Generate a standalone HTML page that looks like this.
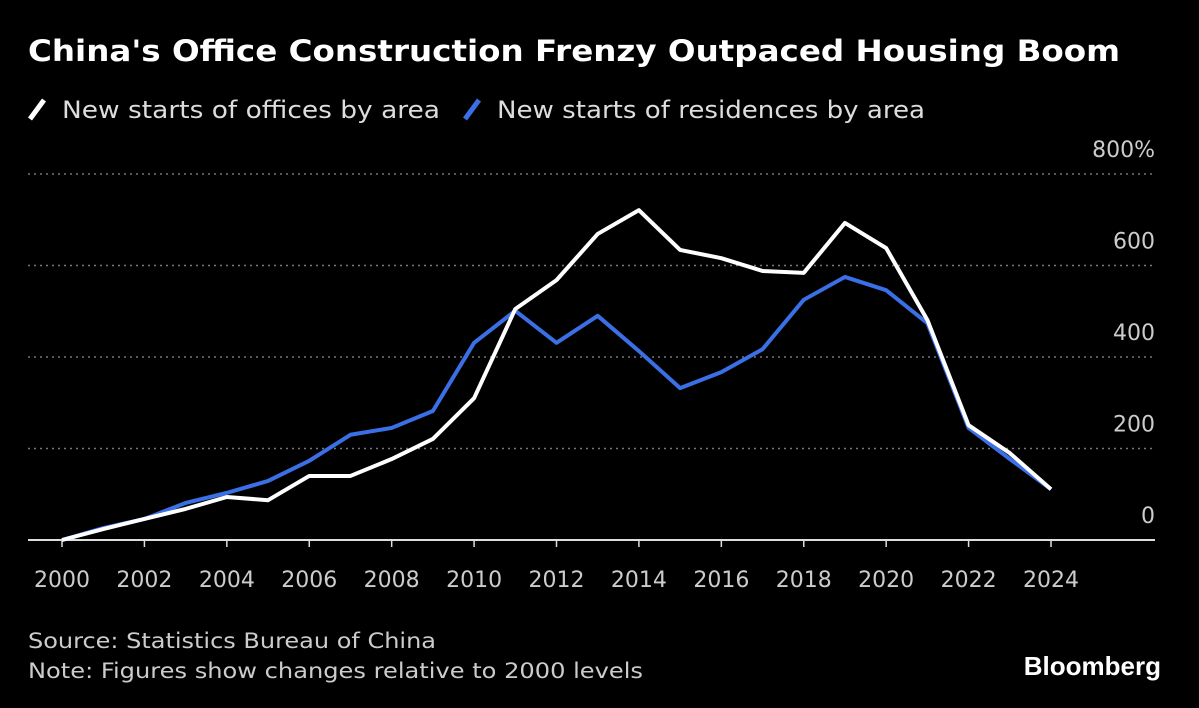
<!DOCTYPE html>
<html><head><meta charset="utf-8"><style>
html,body{margin:0;padding:0;background:#000;}
body{width:1199px;height:704px;overflow:hidden;font-family:"DejaVu Sans","Liberation Sans",sans-serif;color:#fff;}
</style></head><body>
<svg id="chart" width="1199" height="704" xmlns="http://www.w3.org/2000/svg" font-family="DejaVu Sans, Liberation Sans, sans-serif">
<text x="28" y="61" font-size="29" font-weight="bold" fill="#fff" textLength="1092" lengthAdjust="spacingAndGlyphs">China's Office Construction Frenzy Outpaced Housing Boom</text>
<g>
<line x1="30" y1="119" x2="44" y2="100" stroke="#fff" stroke-width="5"/>
<text x="62" y="118" font-size="24" fill="#ddd" textLength="378" lengthAdjust="spacingAndGlyphs">New starts of offices by area</text></g>
<g>
<line x1="465" y1="119" x2="479" y2="100" stroke="#3b6fe6" stroke-width="5"/>
<text x="497" y="118" font-size="24" fill="#ddd" textLength="428" lengthAdjust="spacingAndGlyphs">New starts of residences by area</text></g>
<g id="grid"></g><g id="xaxis"></g><g id="series"></g>
<text x="28" y="648" font-size="21" fill="#ccc" textLength="408" lengthAdjust="spacingAndGlyphs">Source: Statistics Bureau of China</text>
<text x="28" y="678" font-size="21" fill="#ccc" textLength="615" lengthAdjust="spacingAndGlyphs">Note: Figures show changes relative to 2000 levels</text>
<text x="1161" y="675" font-size="26" font-weight="bold" fill="#fff" text-anchor="end" font-family="Liberation Sans, sans-serif">Bloomberg</text>
</svg>
<script>
const years=[2000,2001,2002,2003,2004,2005,2006,2007,2008,2009,2010,2011,2012,2013,2014,2015,2016,2017,2018,2019,2020,2021,2022,2023,2024];
const offices=[0,24,46,68,94,87,140,140,177,221,310,505,568,669,721,634,616,588,584,693,638,481,251,190,111];
const residences=[0,26,46,81,103,129,173,230,245,282,431,501,431,490,413,332,367,417,525,575,546,474,245,177,111];
const yTicks=[0,200,400,600,800];
const xTicks=[2000,2002,2004,2006,2008,2010,2012,2014,2016,2018,2020,2022,2024];
const NS="http://www.w3.org/2000/svg";
const x=v=>62+(v-2000)*(1051-62)/24;
const y=v=>540-v*(540-174)/800;
function mk(t,a,p){const e=document.createElementNS(NS,t);for(const k in a)e.setAttribute(k,a[k]);p.appendChild(e);return e;}
const grid=document.getElementById('grid');
yTicks.forEach(v=>{
  if(v>0){const l=mk('line',{x1:28,x2:1155,y1:y(v),y2:y(v),stroke:'#777','stroke-width':1.5,'stroke-dasharray':'2,4'},grid);
  
  }
  const t=mk('text',{x:1155,y:y(v)-17,'font-size':22,fill:'#ccc','text-anchor':'end'},grid);
  t.textContent=v+(v===800?'%':'');
  
  
});
const xa=document.getElementById('xaxis');
const base=mk('line',{x1:28,x2:1155,y1:540,y2:540,stroke:'#ddd','stroke-width':2},xa);


xTicks.forEach(v=>{
  mk('line',{x1:x(v),x2:x(v),y1:540,y2:547,stroke:'#ddd','stroke-width':1.5},xa);
  const t=mk('text',{x:x(v),y:587,'font-size':22,fill:'#ccc','text-anchor':'middle'},xa);
  t.textContent=v;
  
  
});
const s=document.getElementById('series');
function line(vals,col,name){
  const p=mk('polyline',{points:vals.map((v,i)=>x(years[i])+','+y(v)).join(' '),fill:'none',stroke:col,'stroke-width':4,'stroke-linejoin':'round'},s);
  
  
}
line(residences,'#3b6fe6','residences-line');
line(offices,'#ffffff','offices-line');
</script>
</body></html>
